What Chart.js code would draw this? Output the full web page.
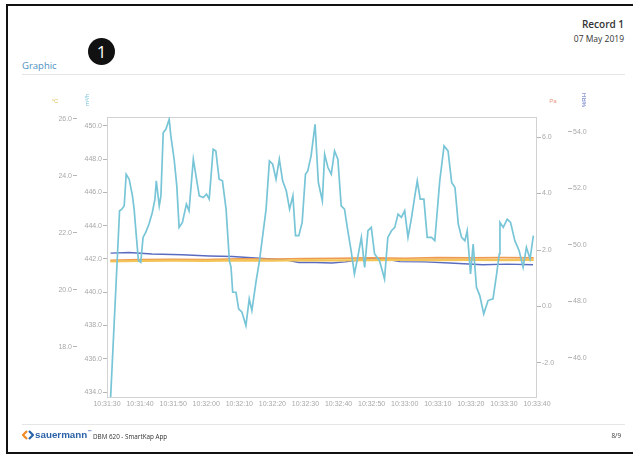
<!DOCTYPE html>
<html><head><meta charset="utf-8">
<script src="https://cdn.jsdelivr.net/npm/chart.js@4.4.0/dist/chart.umd.min.js"></script>
<style>
html,body{margin:0;padding:0;background:#fff;}
#page{position:relative;width:633px;height:456px;overflow:hidden;background:#fff;font-family:"Open Sans",sans-serif;}
#frame{position:absolute;left:6px;top:4px;width:700px;height:446px;border-left:2px solid #111;border-top:2px solid #111;border-bottom:2px solid #111;}
.rec{position:absolute;right:9px;top:17px;font-size:10px;font-weight:600;color:#333;white-space:nowrap;}
.date{position:absolute;right:9px;top:33px;font-size:8.5px;color:#333;white-space:nowrap;}
.title{position:absolute;left:22px;top:59px;font-size:9.5px;color:#4d8fbf;}
.badge{position:absolute;left:88px;top:38px;width:27px;height:27px;border-radius:50%;background:#111;color:#fff;font-size:17px;line-height:27px;text-align:center;}
.hr1{position:absolute;left:22px;top:74px;width:603px;height:1px;background:#e6e6e6;}
.hr2{position:absolute;left:22px;top:424px;width:603px;height:1px;background:#e6e6e6;}
.foot{position:absolute;left:22px;top:429px;height:14px;white-space:nowrap;}
.brand{position:absolute;left:13px;top:0px;font-family:"Liberation Sans",Arial,sans-serif;font-weight:bold;font-size:9.8px;color:#2b62a8;letter-spacing:0px;}
.tm{font-size:4.5px;vertical-align:top;color:#2b62a8;}
.app{position:absolute;left:71px;top:2.5px;font-size:6.3px;color:#333;}
.pg{position:absolute;right:12px;top:431px;font-size:6.3px;color:#333;}
#wrap{position:absolute;left:0;top:80px;width:633px;height:345px;}
</style></head>
<body><div id="page">
<div id="frame"></div>
<div class="rec">Record 1</div>
<div class="date">07 May 2019</div>
<div class="title">Graphic</div>
<div class="badge">1</div>
<div class="hr1"></div>
<div id="wrap"><canvas id="c" width="633" height="345"></canvas></div>
<div class="hr2"></div>
<div class="foot">
<svg style="position:absolute;left:0;top:1px" width="12" height="10" viewBox="0 0 12 10"><path d="M5 1 L1 5 L5 9" fill="none" stroke="#f08a24" stroke-width="2.2"/><path d="M7 1 L11 5 L7 9" fill="none" stroke="#2b62a8" stroke-width="2.2"/></svg>
<span class="brand">sauermann<span class="tm">™</span></span>
<span class="app">DBM 620 - SmartKap App</span>
</div>
<div class="pg">8/9</div>
</div>
<script>
// time axis (seconds after 10:31:30)
const xTickSeconds = [0,10,20,30,40,50,60,70,80,90,100,110,120,130];
const xTickLabels = ['10:31:30','10:31:40','10:31:50','10:32:00','10:32:10','10:32:20','10:32:30','10:32:40','10:32:50','10:33:00','10:33:10','10:33:20','10:33:30','10:33:40'];

// airflow m³/h
const flowTimes = [1.1,3.8,4.5,5.2,5.8,6.7,7.7,8.2,8.9,9.5,10.2,10.9,11.7,12.7,13.7,14.5,14.9,15.8,16.3,17.0,17.8,18.8,19.3,20.3,21.1,21.8,22.8,24.0,24.8,26.1,26.9,27.9,29.1,30.1,30.9,32.1,32.9,33.9,34.9,36.0,37.0,37.5,38.0,39.0,39.8,40.8,42.0,43.0,43.8,45.1,46.1,48.1,49.1,50.1,51.1,52.1,53.1,54.2,55.2,56.2,57.0,58.0,59.0,60.0,60.7,61.7,62.9,63.9,65.1,65.8,66.8,67.8,68.8,69.8,70.8,71.8,72.8,73.8,74.8,75.8,76.9,77.9,78.9,79.9,80.9,82.4,83.9,84.9,86.0,87.0,88.0,89.0,90.0,91.0,92.0,93.0,93.8,94.7,95.8,96.8,98.1,99.1,100.6,101.9,103.1,104.2,105.2,106.2,107.2,108.2,108.9,109.9,110.7,111.7,112.7,113.9,115.2,116.7,117.8,118.6,118.8,119.8,121.0,122.0,123.3,124.6,125.8,126.8,127.9,128.9];
const flowValues = [433.7,444.9,445.0,445.2,447.1,446.8,445.8,445.0,443.3,441.9,441.8,443.3,443.6,444.1,444.8,445.6,446.7,445.2,445.8,449.6,449.8,450.4,449.4,448.0,446.4,443.9,444.2,445.3,444.9,448.0,447.0,445.8,445.7,445.9,445.6,448.6,448.5,446.8,446.7,445.0,441.9,441.5,440.0,440.0,439.0,438.8,438.0,439.6,438.9,440.7,441.9,445.0,447.9,447.7,446.8,448.0,446.7,446.1,445.0,445.8,443.4,443.4,444.2,447.1,447.3,448.2,450.1,446.6,445.5,448.3,447.5,447.1,448.5,448.0,445.2,445.0,443.7,442.5,441.1,442.1,443.3,441.5,443.7,443.9,442.3,441.9,440.8,443.3,443.7,443.9,444.7,444.5,444.9,443.3,444.4,445.7,446.7,445.6,445.6,443.3,443.3,443.1,446.7,448.8,448.5,446.6,446.3,444.1,443.3,443.1,443.7,441.1,442.9,440.3,439.8,438.7,439.5,439.6,441.1,442.3,444.2,443.9,444.4,444.2,443.1,442.5,441.5,442.7,442.0,443.4];

// temperature °C
const tempTimes = [1,10,20,30,40,50,60,70,80,90,100,110,120,129];
const tempValues = [21.00,21.02,21.03,21.02,21.04,21.03,21.05,21.04,21.05,21.06,21.05,21.06,21.05,21.06];

// pressure Pa
const paTimes = [1,10,20,30,40,50,60,70,80,90,100,110,120,129];
const paValues = [1.64,1.66,1.67,1.66,1.69,1.68,1.70,1.71,1.72,1.71,1.73,1.72,1.73,1.72];

// humidity %RH
const rhTimes = [1.1,6.7,13.6,22.7,30.9,37.9,46,54,58,63,68,72,78.5,84,88.5,96,103.6,113.6,121,128.8];
const rhValues = [49.71,49.73,49.68,49.65,49.61,49.59,49.53,49.47,49.38,49.38,49.36,49.40,49.50,49.50,49.41,49.40,49.36,49.30,49.32,49.30];

const flowTicks = [434,436,438,440,442,444,446,448,450];
const tempTicks = [18,20,22,24,26];
const paTicks = [-2,0,2,4,6];
const rhTicks = [46,48,50,52,54];

function pts(xs, ys){ return xs.map((x,i)=>({x:x, y:ys[i]})); }

const tickFont = {family:'"Liberation Sans", Arial, sans-serif', size:7};
function yAxis(pos, weight, min, max, tickVals, width){
  return {
    type:'linear', position:pos, weight:weight, min:min, max:max,
    afterBuildTicks: s => { s.ticks = tickVals.map(v=>({value:v})); },
    afterFit: s => { s.width = width; },
    ticks:{font:tickFont, color:'#a8a8a8', padding:1, callback: v => Number(v).toFixed(1)},
    grid:{display:true, drawOnChartArea:false, drawTicks:true, tickLength:4, color:'#b5b5b5'},
    border:{display:false}
  };
}

const deco = {
  id:'deco',
  beforeDatasetsDraw(chart){
    const {ctx, chartArea:a} = chart;
    ctx.save();
    ctx.strokeStyle = '#d2d2d2'; ctx.lineWidth = 1;
    ctx.strokeRect(a.left+0.5, a.top+0.5, a.width-1, a.height-1);
    ctx.restore();
  },
  afterDraw(chart){
    const {ctx, scales} = chart;
    ctx.save();
    ctx.font = '6px "Liberation Sans", Arial, sans-serif';
    ctx.textAlign = 'center'; ctx.textBaseline = 'middle';
    const yT = chart.chartArea.top - 16;
    ctx.fillStyle = '#e3c15a'; ctx.fillText('°C', scales.yTemp.left + 5, yT);
    ctx.fillStyle = '#e79a84'; ctx.fillText('Pa', scales.yPa.left + 16, yT);
    function vert(txt, x, color){
      ctx.save(); ctx.translate(x, yT - 1); ctx.rotate(-Math.PI/2);
      ctx.fillStyle = color; ctx.fillText(txt, 0, 0); ctx.restore();
    }
    vert('m³/h', scales.yFlow.left + 10, '#77c5d7');
    vert('%RH', scales.yRh.left + 16, '#5a6cc0');
    ctx.restore();
  }
};

new Chart(document.getElementById('c'), {
  type:'line',
  data:{datasets:[
    {label:'m³/h', data:pts(flowTimes, flowValues), yAxisID:'yFlow', borderColor:'#77c5d7', borderWidth:1.7, pointRadius:0, tension:0},
    {label:'°C', data:pts(tempTimes, tempValues), yAxisID:'yTemp', borderColor:'#f3c457', borderWidth:2.2, pointRadius:0, tension:0},
    {label:'Pa', data:pts(paTimes, paValues), yAxisID:'yPa', borderColor:'#ee9a50', borderWidth:1.6, pointRadius:0, tension:0},
    {label:'%RH', data:pts(rhTimes, rhValues), yAxisID:'yRh', borderColor:'#5a6cc0', borderWidth:1.4, pointRadius:0, tension:0}
  ]},
  options:{
    responsive:false, animation:false,
    layout:{padding:{left:50, right:35, top:37, bottom:13}},
    plugins:{legend:{display:false}, tooltip:{enabled:false}},
    scales:{
      x:{type:'linear', min:0, max:130,
        afterBuildTicks: s => { s.ticks = xTickSeconds.map(v=>({value:v})); },
        afterFit: s => { s.height = 14; },
        ticks:{font:tickFont, color:'#a8a8a8', padding:2, maxRotation:0, autoSkip:false,
          callback:(v,i) => xTickLabels[i]},
        grid:{display:false, drawTicks:false}, border:{display:false}},
      yFlow: yAxis('left', 1, 433.64, 450.54, flowTicks, 30),
      yTemp: yAxis('left', 2, 16.21, 26.07, tempTicks, 27),
      yPa: yAxis('right', 1, -3.24, 6.71, paTicks, 31),
      yRh: yAxis('right', 2, 44.58, 54.53, rhTicks, 30)
    }
  },
  plugins:[deco]
});
</script>
</body></html>
